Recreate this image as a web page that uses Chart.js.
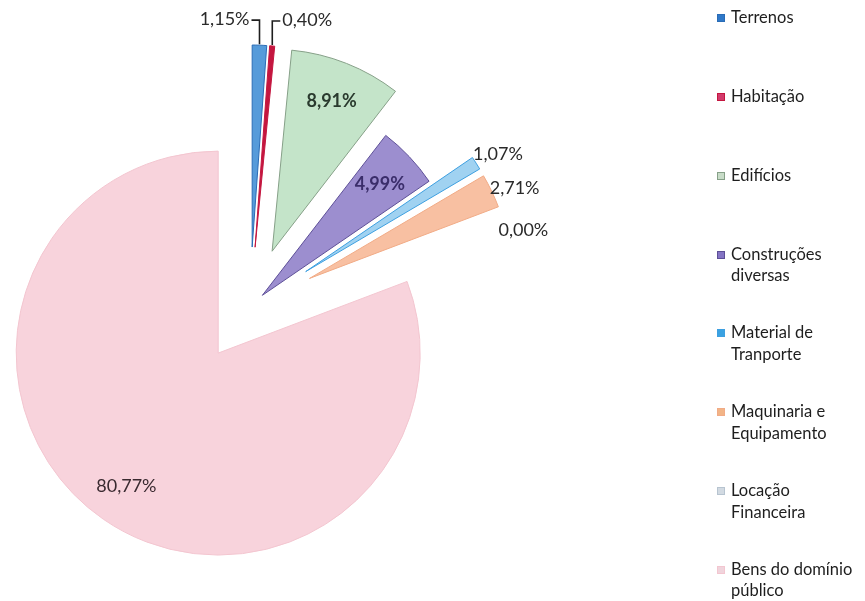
<!DOCTYPE html>
<html>
<head>
<meta charset="utf-8">
<script src="https://cdn.jsdelivr.net/npm/chart.js@4/dist/chart.umd.min.js"></script>
<style>
  body { margin: 0; background: #fff; }
  #wrap { position: relative; width: 865px; height: 601px; overflow: hidden; }
  #chartBox { position: absolute; left: 0; top: 0; width: 640px; height: 601px; }
  #legend { position: absolute; left: 0; top: 0; width: 865px; height: 601px; pointer-events: none;
            font-family: Lato, "Open Sans", sans-serif; font-size: 16.5px; color: #1e1e1e; }
  .item { position: absolute; left: 731px; line-height: 21.5px; white-space: nowrap; }
  .box { position: absolute; left: -14px; top: 7px; width: 6px; height: 6px; border: 1px solid; }
</style>
</head>
<body>
<div id="wrap">
  <div id="chartBox"><canvas id="myChart"></canvas></div>
  <div id="legend"></div>
</div>
<script>
var categories = [
    ["Terrenos"],
    ["Habitação"],
    ["Edifícios"],
    ["Construções", "diversas"],
    ["Material de", "Tranporte"],
    ["Maquinaria e", "Equipamento"],
    ["Locação", "Financeira"],
    ["Bens do domínio", "público"]
];
var shares = [1.15, 0.40, 8.91, 4.99, 1.07, 2.71, 0.00, 80.77];

// looks
var fills = ['#569bda', '#c4163f', '#c4e4c9', '#9c8ecf', '#a0d2f1', '#f8c0a2', '#c9d5e0', '#f8d3dc'];
var borders = ['#2a6cb6', '#c4163f', '#86a088', '#5d4f97', '#3d9fe0', '#f1ab86', '#b7c4d0', '#f3c6d0'];
var legendBoxes = ['#2f78c8', '#d23a6c', '#c8dcc8', '#8474c4', '#3aa2e2', '#f2b486', '#d2dae2', '#f0d4dc'];
var explode = [60, 60, 60, 17, 66, 66, 66, 56];
// label placement: in = inside slice, out = outside, left/right = callout with leader
var labelMode = ['left', 'right', 'in', 'in', 'out', 'out', 'out', 'in'];
var labelShift = [[0, 0], [0, 0], [0, 0], [0, 0], [3, 3], [3, 7], [2, 26], [0, 0]];
var labelColor = ['#2a2a2a', '#2a2a2a', '#2a3a2e', '#3a2d6a', '#2a2a2a', '#2a2a2a', '#2a2a2a', '#3a2a30'];
var labelBold = [false, false, true, true, false, false, false, false];

function pct(v) {
    return v.toFixed(2).replace('.', ',') + '%';
}

var explodePlugin = {
    id: 'explode',
    beforeDatasetDraw: function (chart, args) {
        var ctx = chart.ctx;
        args.meta.data.forEach(function (arc, i) {
            var mid = (arc.startAngle + arc.endAngle) / 2;
            ctx.save();
            ctx.translate(Math.cos(mid) * explode[i], Math.sin(mid) * explode[i]);
            arc.draw(ctx, chart.chartArea);
            ctx.restore();
        });
        return false;
    }
};

var labelPlugin = {
    id: 'sliceLabels',
    afterDatasetsDraw: function (chart) {
        var ctx = chart.ctx;
        var meta = chart.getDatasetMeta(0);
        ctx.save();
        ctx.textBaseline = 'middle';
        meta.data.forEach(function (arc, i) {
            var p = arc.getProps(['x', 'y', 'startAngle', 'endAngle', 'outerRadius'], true);
            var mid = (p.startAngle + p.endAngle) / 2;
            var cx = p.x + Math.cos(mid) * explode[i];
            var cy = p.y + Math.sin(mid) * explode[i];
            var r = p.outerRadius;
            var text = pct(shares[i]);
            ctx.font = (labelBold[i] ? 'bold ' : '') + '18px Lato, "Open Sans", sans-serif';
            ctx.fillStyle = labelColor[i];
            var mode = labelMode[i];
            if (mode === 'in' || mode === 'out') {
                var f = mode === 'in' ? 0.8 : 1.11;
                ctx.textAlign = 'center';
                ctx.fillText(text, cx + Math.cos(mid) * r * f + labelShift[i][0],
                    cy + Math.sin(mid) * r * f + labelShift[i][1]);
            } else {
                var ax = cx + Math.cos(mid) * (r + 1);
                var ay = cy + Math.sin(mid) * (r + 1);
                var ty = ay - 24;
                var dir = mode === 'left' ? -1 : 1;
                ctx.strokeStyle = '#1e1e1e';
                ctx.lineWidth = 1.6;
                ctx.beginPath();
                ctx.moveTo(ax, ay);
                ctx.lineTo(ax, ty);
                ctx.lineTo(ax + dir * 8, ty);
                ctx.stroke();
                ctx.textAlign = mode === 'left' ? 'right' : 'left';
                ctx.fillText(text, ax + dir * 10, ty - 1);
            }
        });
        ctx.restore();
    }
};

var ctx = document.getElementById("myChart");
var myChart = new Chart(ctx, {
    type: 'pie',
    data: {
        labels: categories,
        datasets: [{
            data: shares,
            backgroundColor: fills,
            borderColor: borders,
            borderWidth: 1
        }]
    },
    options: {
        responsive: true,
        maintainAspectRatio: false,
        animation: false,
        radius: 202,
        layout: {
            padding: { left: 48, right: 188, top: 13, bottom: 0 }
        },
        plugins: {
            legend: { display: false },
            tooltip: { enabled: false }
        }
    },
    plugins: [explodePlugin, labelPlugin]
});

// legend as html, built from chart's own legend items
var legendEl = document.getElementById('legend');
var items = Chart.overrides.pie.plugins.legend.labels.generateLabels(myChart);
items.forEach(function (it, i) {
    var div = document.createElement('div');
    div.className = 'item';
    div.style.top = (18 + i * 78.8 - 10.75) + 'px';
    var lines = Array.isArray(it.text) ? it.text : [it.text];
    var box = document.createElement('span');
    box.className = 'box';
    box.style.background = legendBoxes[i];
    box.style.borderColor = it.strokeStyle;
    div.appendChild(box);
    lines.forEach(function (line, k) {
        if (k > 0) div.appendChild(document.createElement('br'));
        div.appendChild(document.createTextNode(line));
    });
    legendEl.appendChild(div);
});
</script>
</body>
</html>
